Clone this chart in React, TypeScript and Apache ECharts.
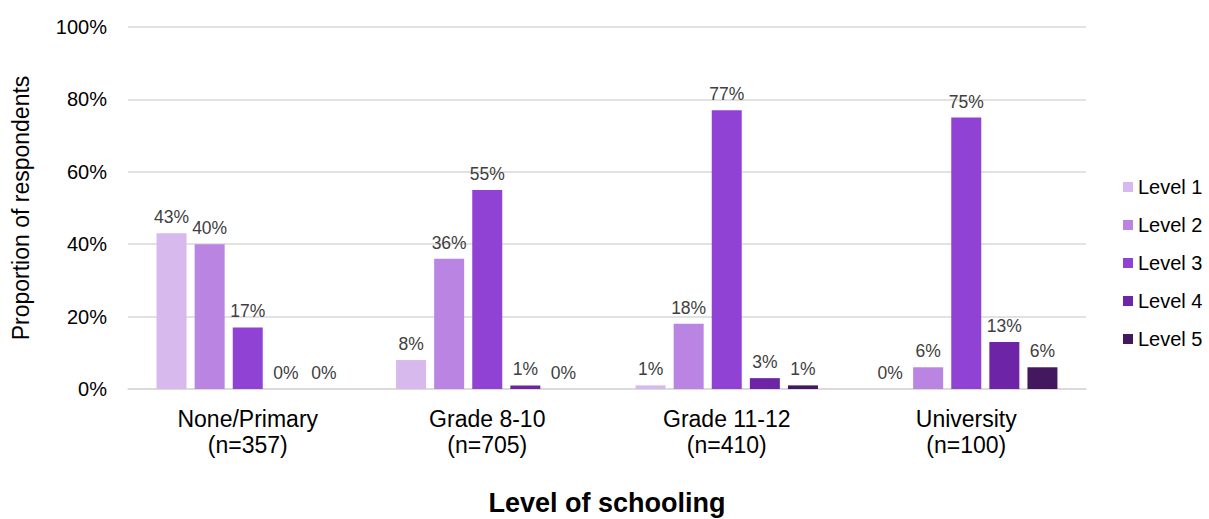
import React, { useEffect, useRef } from "react";
import * as echarts from "echarts";

const categories = ["None/Primary\n(n=357)", "Grade 8-10\n(n=705)", "Grade 11-12\n(n=410)", "University\n(n=100)"];
const level1 = [43, 8, 1, 0];
const level2 = [40, 36, 18, 6];
const level3 = [17, 55, 77, 75];
const level4 = [0, 1, 3, 13];
const level5 = [0, 0, 1, 6];
const seriesNames = ["Level 1", "Level 2", "Level 3", "Level 4", "Level 5"];
const colors = ["#D7B9EE", "#B984E2", "#9042D4", "#6E24A6", "#44185F"];

export default function App() {
  const ref = useRef<HTMLDivElement>(null);
  useEffect(() => {
    if (!ref.current) return;
    const chart = echarts.init(ref.current, null, { renderer: "svg" });
    const data = [level1, level2, level3, level4, level5];
    const font = "'Liberation Sans', Arial, sans-serif";
    chart.setOption({
      animation: false,
      textStyle: { fontFamily: font },
      grid: { left: 128, right: 123, top: 27, bottom: 130, containLabel: false, outerBoundsMode: "none" },
      legend: {
        orient: "vertical",
        left: 1123,
        top: 177,
        padding: 0,
        itemWidth: 10,
        itemHeight: 10,
        itemGap: 18,
        icon: "rect",
        textStyle: { fontSize: 20, color: "#000", fontFamily: font },
        data: seriesNames,
      },
      xAxis: {
        type: "category",
        data: categories,
        name: "Level of schooling",
        nameLocation: "middle",
        nameGap: 100,
        nameTextStyle: { fontSize: 27, fontWeight: "bold", color: "#000", fontFamily: font, lineHeight: 28 },
        axisLine: { lineStyle: { color: "#D9D9D9", width: 1.5 } },
        axisTick: { show: false },
        axisLabel: { fontSize: 23, color: "#000", lineHeight: 26, margin: 17, fontFamily: font },
      },
      yAxis: {
        type: "value",
        min: 0,
        max: 100,
        interval: 20,
        name: "Proportion of respondents",
        nameLocation: "middle",
        nameGap: 96,
        nameTextStyle: { fontSize: 23, color: "#000", fontFamily: font },
        axisLabel: { formatter: "{value}%", fontSize: 20, color: "#000", margin: 21, fontFamily: font },
        splitLine: { lineStyle: { color: "#D9D9D9", width: 1.5 } },
        axisLine: { show: false },
        axisTick: { show: false },
      },
      series: seriesNames.map((name, i) => ({
        name,
        type: "bar",
        data: data[i],
        barWidth: 30,
        barGap: "27%",
        barCategoryGap: "24%",
        itemStyle: { color: colors[i] },
        label: {
          show: true,
          position: "top",
          distance: 7,
          formatter: "{c}%",
          fontSize: 17.5,
          color: "#404040",
          fontFamily: font,
        },
      })),
    });
    return () => chart.dispose();
  }, []);
  return <div ref={ref} style={{ position: "absolute", left: 0, top: 0, width: 1209, height: 519 }} />;
}
